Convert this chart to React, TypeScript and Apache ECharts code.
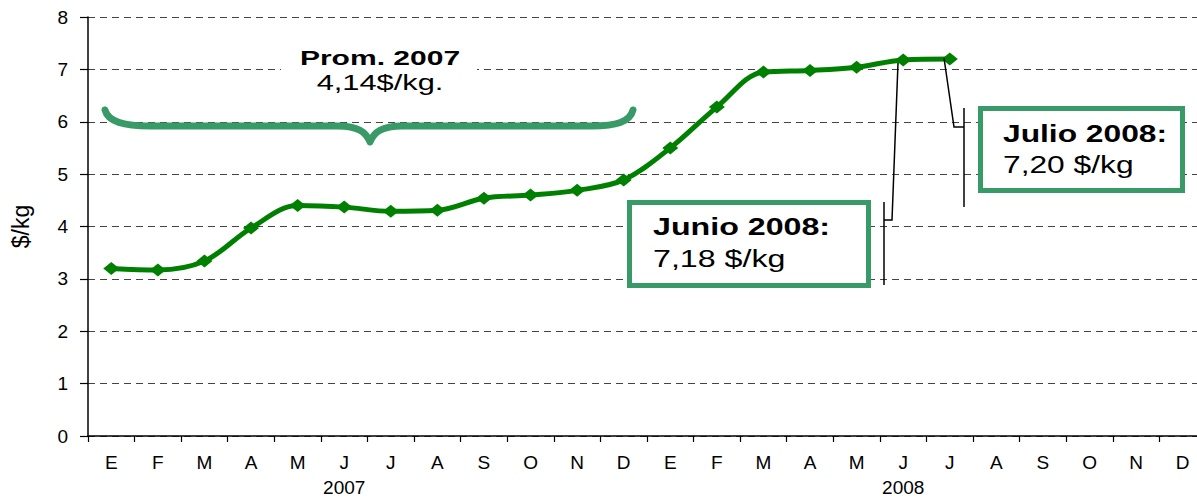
import React, { useEffect, useRef } from "react";
import * as echarts from "echarts";

const months = ["E", "F", "M", "A", "M", "J", "J", "A", "S", "O", "N", "D", "E", "F", "M", "A", "M", "J", "J", "A", "S", "O", "N", "D"];
const yearLabels = ["", "", "", "", "", "2007", "", "", "", "", "", "", "", "", "", "", "", "2008", "", "", "", "", "", ""];
const prices = [3.2, 3.17, 3.34, 3.97, 4.4, 4.37, 4.29, 4.31, 4.54, 4.6, 4.69, 4.89, 5.5, 6.28, 6.95, 6.98, 7.04, 7.18, 7.2];
const yTicks = { min: 0, max: 8, interval: 1 };
const avgTitle = "Prom. 2007";
const avgValue = "4,14$/kg.";
const juneTitle = "Junio 2008:";
const juneValue = "7,18 $/kg";
const julyTitle = "Julio 2008:";
const julyValue = "7,20 $/kg";

const FONT = "'Liberation Sans', Arial, sans-serif";
const GREEN = "#008000";
const TEAL = "#389a66";

let registered = false;
function registerBrace() {
  if (registered) return;
  registered = true;
  const d =
    "M105,110 C108,122 124,126 150,126 L338,126 C358,126 366,132 370,142 C374,132 382,126 402,126 L592,126 C616,126 630,122 633,110";
  echarts.graphic.registerShape("brace", echarts.graphic.extendPath(d, {}) as any);
}

export default function App() {
  const ref = useRef<HTMLDivElement>(null);
  useEffect(() => {
    if (!ref.current) return;
    registerBrace();
    const chart = echarts.init(ref.current, null, { renderer: "svg" });
    const txt = (x: number, y: number, text: string, size: number, bold: boolean, align: string, sx: number) => ({
      type: "text",
      x,
      y,
      scaleX: sx,
      z: 110,
      style: {
        text,
        fontSize: size,
        fontWeight: bold ? "bold" : "normal",
        fontFamily: FONT,
        fill: "#000",
        align,
        textAlign: align,
        verticalAlign: "middle",
        textVerticalAlign: "middle",
      },
    });
    chart.setOption({
      animation: false,
      backgroundColor: "#fff",
      grid: { left: 88, right: -9, top: 17, bottom: 66, containLabel: false, outerBoundsMode: "none" },
      xAxis: [
        {
          type: "category",
          data: months,
          position: "bottom",
          boundaryGap: true,
          axisLine: { show: true, lineStyle: { color: "#000", width: 1.5 } },
          axisTick: { show: true, alignWithLabel: false, length: 6, lineStyle: { color: "#000", width: 1.2 } },
          axisLabel: { interval: 0, color: "#000", fontSize: 19, fontFamily: FONT, margin: 17 },
          splitLine: { show: false },
        },
        {
          type: "category",
          data: yearLabels,
          position: "bottom",
          boundaryGap: true,
          axisLine: { show: false },
          axisTick: { show: false },
          axisLabel: { interval: 0, color: "#000", fontSize: 19, fontFamily: FONT, margin: 42 },
          splitLine: { show: false },
        },
      ],
      yAxis: {
        type: "value",
        min: yTicks.min,
        max: yTicks.max,
        interval: yTicks.interval,
        name: "$/kg",
        nameLocation: "middle",
        nameGap: 56,
        nameRotate: 90,
        nameTextStyle: { fontSize: 23, fontFamily: FONT, color: "#000" },
        axisLine: { show: true, lineStyle: { color: "#000", width: 1.5 } },
        axisTick: { show: true, length: 8, lineStyle: { color: "#000", width: 1.2 } },
        axisLabel: { color: "#000", fontSize: 19, fontFamily: FONT, margin: 20 },
        splitLine: { show: true, lineStyle: { color: "#444", width: 1, type: [7, 5] } },
      },
      series: [
        {
          type: "line",
          data: prices,
          smooth: 0.35,
          symbol: "diamond",
          symbolSize: [16, 13],
          lineStyle: { color: GREEN, width: 5 },
          itemStyle: { color: GREEN },
          z: 5,
        },
      ],
      graphic: [
        { type: "rect", z: 100, shape: { x: 281, y: 40, width: 196, height: 62 }, style: { fill: "#fff" } },
        txt(380, 58, avgTitle, 21, true, "center", 1.43),
        txt(380, 83, avgValue, 22, false, "center", 1.4),
        { type: "brace", x: 0, y: 0, z: 100, style: { stroke: TEAL, lineWidth: 7, fill: "none", lineCap: "round", lineJoin: "round" } },
        { type: "rect", z: 100, shape: { x: 629.5, y: 202.5, width: 239, height: 83 }, style: { fill: "#fff", stroke: TEAL, lineWidth: 5 } },
        txt(653, 227, juneTitle, 23, true, "left", 1.4),
        txt(653, 259, juneValue, 23, false, "left", 1.4),
        { type: "rect", z: 100, shape: { x: 980.5, y: 108.5, width: 202, height: 82 }, style: { fill: "#fff", stroke: TEAL, lineWidth: 5 } },
        txt(1003, 134, julyTitle, 23, true, "left", 1.38),
        txt(1003, 165, julyValue, 23, false, "left", 1.38),
        { type: "polyline", z: 120, shape: { points: [[898, 63], [892, 220], [884, 220]] }, style: { stroke: "#000", lineWidth: 1.5, fill: "none" } },
        { type: "line", z: 120, shape: { x1: 884, y1: 202, x2: 884, y2: 285 }, style: { stroke: "#000", lineWidth: 1.5 } },
        { type: "polyline", z: 120, shape: { points: [[944, 58], [954, 127], [964, 127]] }, style: { stroke: "#000", lineWidth: 1.5, fill: "none" } },
        { type: "line", z: 120, shape: { x1: 964, y1: 108, x2: 964, y2: 207 }, style: { stroke: "#000", lineWidth: 1.5 } },
      ],
    });
    return () => chart.dispose();
  }, []);
  return <div ref={ref} style={{ position: "absolute", left: 0, top: 0, width: 1197, height: 502 }} />;
}
